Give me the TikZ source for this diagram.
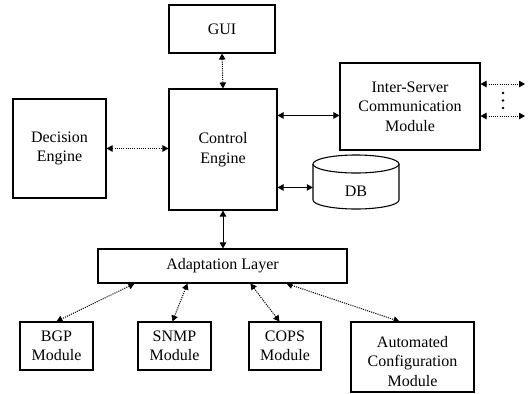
\documentclass[tikz,border=0pt]{standalone}
\usepackage{fontspec}
\setmainfont{Liberation Serif}
\usetikzlibrary{arrows.meta,calc}
\begin{document}
\begin{tikzpicture}[x=1pt,y=-1pt,
  box/.style={draw, line width=1.1pt, inner sep=0pt, align=center,
    font=\fontsize{16}{19.5}\selectfont},
  link/.style={line width=1pt,
    {Triangle[length=6pt,width=6.5pt]}-{Triangle[length=6pt,width=6.5pt]}},
  dotlink/.style={link, dash pattern=on 1.1pt off 1.1pt},
  dbline/.style={line width=1.1pt}
]
\useasboundingbox (0,0) rectangle (531,394);
\clip (0,0) rectangle (531,394);

% main blocks
\node[box, minimum width=106pt, minimum height=48pt]  (gui)     at (222,29)    {GUI};
\node[box, minimum width=108pt, minimum height=121pt] (control) at (223,149.5) {Control\\Engine};
\node[box, minimum width=93pt,  minimum height=99pt]  (decision) at (59.5,148.5) {Decision\\Engine};
\node[box, minimum width=140pt, minimum height=87pt]  (inter)   at (410,106.5) {Inter-Server\\Communication\\Module};
\node[box, minimum width=249pt, minimum height=34pt]  (adapt)   at (222.5,266) {Adaptation Layer};

% protocol modules
\node[box, minimum width=73pt,  minimum height=48pt] (bgp)  at (56.5,346)  {BGP\\Module};
\node[box, minimum width=73pt,  minimum height=48pt] (snmp) at (174.5,346) {SNMP\\Module};
\node[box, minimum width=72pt,  minimum height=48pt] (cops) at (285,346)   {COPS\\Module};
\node[box, minimum width=123pt, minimum height=70pt] (auto) at (412.5,357)
  {\raisebox{-6pt}[\height][\depth]{\begin{tabular}{@{}c@{}}Automated\\Configuration\\Module\end{tabular}}};

% database cylinder
\node[inner sep=0pt, minimum width=86pt, minimum height=54pt] (db) at (356,182) {};
\draw[dbline] (356,164) ellipse [x radius=43, y radius=9];
\draw[dbline] (313,164) -- (313,200) arc[start angle=180, end angle=0, x radius=43, y radius=9] -- (399,164);
\node[font=\fontsize{16}{19.5}\selectfont, inner sep=0pt] (dbtext) at (356,191) {DB};

% connections of the control engine
\draw[dotlink] (gui.south) -- (control.north);
\draw[dotlink] (decision.east) -- (decision.east -| control.west);
\coordinate (cinter) at ($(control.north east)+(0,27)$);
\draw[link] (cinter) -- (cinter -| inter.west);
\coordinate (cdb) at ($(control.north east)+(0,99)$);
\draw[link] (cdb) -- (cdb -| db.west);
\draw[link] (control.south) -- (control.south |- adapt.north);

% external inter-server links
\coordinate (ext1) at (525,84);
\coordinate (ext2) at (525,116);
\draw[dotlink] (inter.east |- ext1) -- (ext1);
\draw[dotlink] (inter.east |- ext2) -- (ext2);
\foreach \yy in {93,100.5,108} \fill (503,\yy) circle[radius=1.4];

% adaptation layer to modules
\draw[dotlink] ($(adapt.south west)+(37,0)$)  -- ($(bgp.north west)+(37,0)$);
\draw[dotlink] ($(adapt.south west)+(90,0)$)  -- ($(snmp.north west)+(35,0)$);
\draw[dotlink] ($(adapt.south west)+(153,0)$) -- ($(cops.north west)+(31,0)$);
\draw[dotlink] ($(adapt.south west)+(189,0)$) -- ($(auto.north west)+(49,0)$);
\end{tikzpicture}
\end{document}
